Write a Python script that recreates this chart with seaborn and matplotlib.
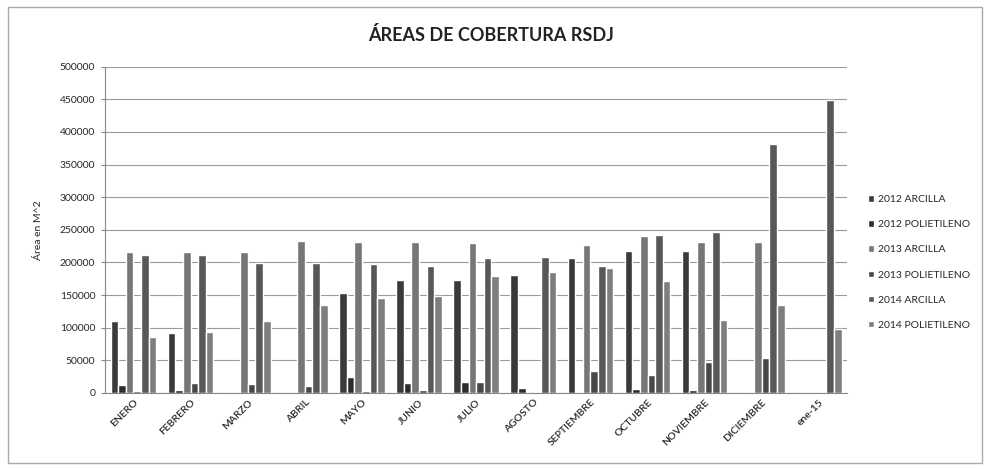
import pandas as pd
import matplotlib.pyplot as plt
import seaborn as sns
from matplotlib.patches import Rectangle

# datos
meses = ['ENERO', 'FEBRERO', 'MARZO', 'ABRIL', 'MAYO', 'JUNIO', 'JULIO', 'AGOSTO',
         'SEPTIEMBRE', 'OCTUBRE', 'NOVIEMBRE', 'DICIEMBRE', 'ene-15']
arcilla_2012 = [110000, 92000, 0, 0, 153000, 173000, 173000, 181000, 207000, 218000, 218000, 0, 0]
poli_2012 = [12000, 5000, 0, 0, 25000, 15000, 16000, 8000, 0, 6000, 5000, 0, 0]
arcilla_2013 = [216000, 216000, 216000, 233000, 231000, 231000, 230000, 0, 227000, 240000, 232000, 231000, 0]
poli_2013 = [3000, 15000, 13000, 11000, 3000, 5000, 16000, 0, 33000, 28000, 48000, 54000, 0]
arcilla_2014 = [212000, 212000, 199000, 199000, 197000, 194000, 207000, 208000, 194000, 242000, 247000, 382000, 449000]
poli_2014 = [86000, 93000, 110000, 135000, 145000, 148000, 179000, 185000, 191000, 171000, 112000, 135000, 98000]

series = {
    '2012 ARCILLA': arcilla_2012,
    '2012 POLIETILENO': poli_2012,
    '2013 ARCILLA': arcilla_2013,
    '2013 POLIETILENO': poli_2013,
    '2014 ARCILLA': arcilla_2014,
    '2014 POLIETILENO': poli_2014,
}
colores = ['#3a3a3a', '#2c2c2c', '#767676', '#484848', '#585858', '#7e7e7e']

rows = []
for nombre, vals in series.items():
    for m, v in zip(meses, vals):
        rows.append({'mes': m, 'serie': nombre, 'area': v})
df = pd.DataFrame(rows)

sns.set_style('white')
plt.rcParams['font.family'] = ['Lato', 'DejaVu Sans']

fig = plt.figure(figsize=(9.9, 4.7), dpi=100)
ax = fig.add_axes([0.106, 0.164, 0.75, 0.694])

sns.barplot(data=df, x='mes', y='area', hue='serie', palette=colores,
            saturation=1, width=0.8, ax=ax, legend=True)

ax.set_ylim(0, 500000)
ax.set_yticks(range(0, 500001, 50000))
ax.set_yticklabels([str(v) for v in range(0, 500001, 50000)], fontsize=7.5, color='#262626')
ax.yaxis.grid(True, color='#9a9a9a', linewidth=0.8)
ax.set_axisbelow(True)
ax.set_xlabel('')
ax.set_ylabel('Área en M^2', fontsize=7.5, color='#262626', labelpad=12)
ax.tick_params(axis='y', length=3, color='#888888', pad=4, left=True)
ax.tick_params(axis='x', length=0)
plt.setp(ax.get_xticklabels(), rotation=45, ha='right', rotation_mode='anchor',
         fontsize=7.5, color='#262626', fontweight='semibold')
for s in ['top', 'right']:
    ax.spines[s].set_visible(False)
ax.spines['left'].set_color('#888888')
ax.spines['bottom'].set_color('#888888')

ax.legend(loc='center left', bbox_to_anchor=(1.015, 0.40), frameon=False, fontsize=7.5,
          handlelength=0.6, handleheight=0.6, handletextpad=0.35, labelspacing=1.55,
          labelcolor='#262626')

fig.text(0.496, 0.925, 'ÁREAS DE COBERTURA RSDJ', ha='center', va='center',
         fontsize=13, fontweight='bold', color='#222222')

fig.patches.append(Rectangle((0.008, 0.015), 0.984, 0.97, transform=fig.transFigure,
                             fill=False, edgecolor='#aaaaaa', linewidth=1))

fig.savefig('out.png', dpi=100)
